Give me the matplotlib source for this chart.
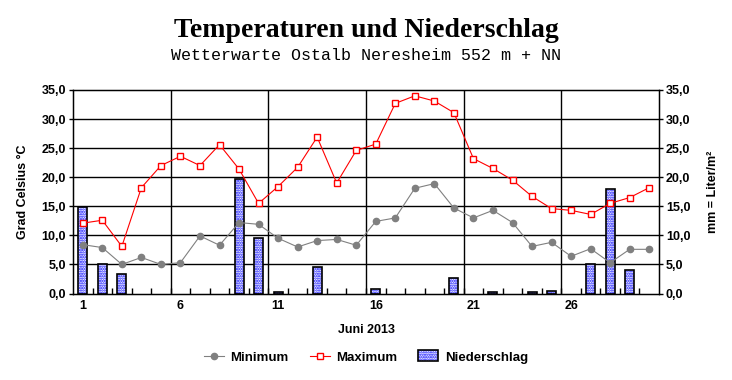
import matplotlib
matplotlib.use("Agg")
import matplotlib.pyplot as plt
from matplotlib.ticker import FuncFormatter, FixedLocator
from matplotlib.lines import Line2D
from matplotlib.patches import Patch
from matplotlib.legend_handler import HandlerTuple

days = list(range(1, 31))
t_min = [8.4, 7.9, 5.0, 6.2, 5.0, 5.3, 9.9, 8.3, 12.2, 11.9,
         9.5, 8.0, 9.1, 9.3, 8.3, 12.4, 13.0, 18.1, 18.9, 14.7,
         13.0, 14.3, 12.2, 8.1, 8.8, 6.4, 7.7, 5.3, 7.6, 7.6]
t_max = [12.1, 12.6, 8.1, 18.2, 22.0, 23.6, 22.0, 25.6, 21.4, 15.5,
         18.4, 21.7, 26.9, 19.0, 24.6, 25.7, 32.7, 34.0, 33.1, 31.1,
         23.2, 21.5, 19.5, 16.7, 14.6, 14.3, 13.6, 15.5, 16.5, 18.2]
precip = [14.9, 5.0, 3.3, 0, 0, 0, 0, 0, 19.7, 9.5,
          0.2, 0, 4.5, 0, 0, 0.7, 0, 0, 0, 2.6,
          0, 0.2, 0, 0.3, 0.5, 0, 5.0, 18.0, 4.0, 0]
xtick_days = [1, 6, 11, 16, 21, 26]
ytick_vals = [0, 5, 10, 15, 20, 25, 30, 35]

plt.rcParams["hatch.linewidth"] = 1.1

W, H = 732, 380
fig = plt.figure(figsize=(W / 100, H / 100), dpi=100)
L, R, T, B = 73, 659, 90, 293.5
ax = fig.add_axes([L / W, 1 - B / H, (R - L) / W, (B - T) / H])

sans = "Liberation Sans"
HATCH = "......."

# bars (hatched blue dots, black frame); no outline for dry days
edge = ["black" if p > 0 else "none" for p in precip]
ax.bar(days, precip, width=0.46, color="white", edgecolor="#0000ff",
       hatch=HATCH, linewidth=0, zorder=2)
ax.bar(days, precip, width=0.46, fill=False, edgecolor=edge,
       linewidth=1.2, zorder=2.1)

ax.plot(days, t_min, color="#808080", lw=0.8, marker="o", ms=4.5,
        mfc="#808080", mec="#808080", zorder=3)
ax.plot(days, t_max, color="#ff0000", lw=0.8, marker="s", ms=5,
        mfc="white", mec="#ff0000", mew=1.0, zorder=3.1)

ax.set_xlim(0.5, 30.5)
ax.set_ylim(0, 35)

# grid lines
for v in ytick_vals[1:-1]:
    ax.axhline(v, color="black", lw=1.0, zorder=1)
for d in xtick_days[1:]:
    ax.axvline(d - 0.5, color="black", lw=1.0, zorder=1)

fmt = FuncFormatter(lambda v, p: f"{v:.1f}".replace(".", ","))
ax.yaxis.set_major_locator(FixedLocator(ytick_vals))
ax.yaxis.set_major_formatter(fmt)
ax.xaxis.set_major_locator(FixedLocator(xtick_days))
ax.xaxis.set_minor_locator(FixedLocator([d + 0.5 for d in days[:-1]]))
ax.tick_params(axis="x", which="major", length=0, pad=5)
ax.tick_params(axis="x", which="minor", direction="in", length=4, width=1)
ax.tick_params(axis="y", direction="out", length=3, width=1, pad=2)
for lab in ax.get_xticklabels() + ax.get_yticklabels():
    lab.set_fontfamily(sans)
    lab.set_fontweight("bold")
    lab.set_fontsize(9)
for s in ax.spines.values():
    s.set_linewidth(1.0)

ax2 = ax.twinx()
ax2.set_ylim(0, 35)
ax2.yaxis.set_major_locator(FixedLocator(ytick_vals))
ax2.yaxis.set_major_formatter(fmt)
ax2.tick_params(axis="y", direction="out", length=3, width=1, pad=2)
for lab in ax2.get_yticklabels():
    lab.set_fontfamily(sans)
    lab.set_fontweight("bold")
    lab.set_fontsize(9)

ax.set_ylabel("Grad Celsius °C", fontfamily=sans, fontweight="bold",
              fontsize=9, labelpad=9)
ax2.set_ylabel("mm = Liter/m²", fontfamily=sans, fontweight="bold",
               fontsize=9, labelpad=12)
ax.set_xlabel("Juni 2013", fontfamily=sans, fontweight="bold",
              fontsize=9, labelpad=8)

fig.text(0.5, 1 - 37 / H, "Temperaturen und Niederschlag",
         fontfamily="Liberation Serif", fontweight="bold", fontsize=20,
         ha="center", va="baseline")
fig.text(0.5, 1 - 60 / H, "Wetterwarte Ostalb Neresheim 552 m + NN",
         fontfamily="Liberation Mono", fontsize=12,
         ha="center", va="baseline")

handles = [
    Line2D([], [], color="#808080", lw=0.8, marker="o", ms=4.5,
           mfc="#808080", mec="#808080"),
    Line2D([], [], color="#ff0000", lw=0.8, marker="s", ms=5,
           mfc="white", mec="#ff0000"),
    (Patch(facecolor="white", edgecolor="#0000ff", hatch=HATCH, lw=0),
     Patch(fill=False, edgecolor="black", lw=1.2)),
]
leg = fig.legend(handles, ["Minimum", "Maximum", "Niederschlag"],
                 loc="center", bbox_to_anchor=(0.5, 1 - 357 / H), ncol=3,
                 frameon=False, handlelength=1.5, handleheight=0.9,
                 handletextpad=0.5, columnspacing=1.6,
                 handler_map={tuple: HandlerTuple(ndivide=1)},
                 prop={"family": sans, "weight": "bold", "size": 9.5})

fig.savefig("out.png", dpi=100)
